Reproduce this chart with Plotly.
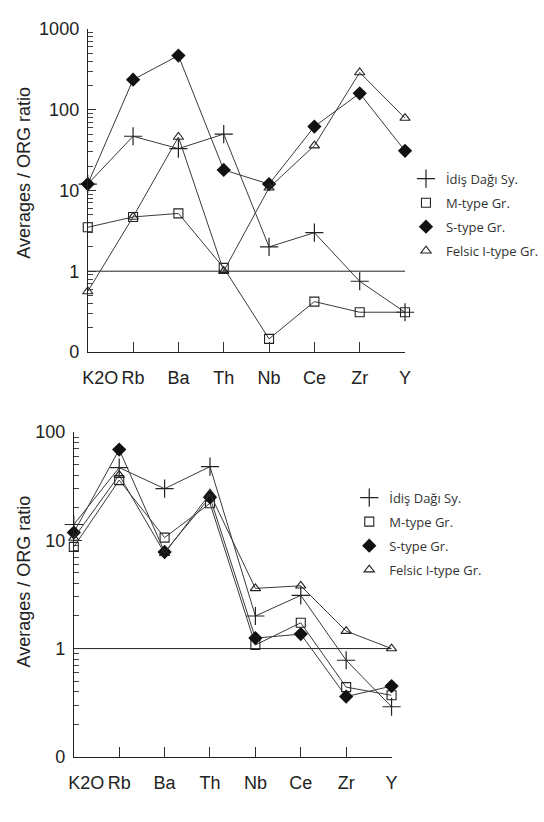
import plotly.graph_objects as go

elements = ["K2O", "Rb", "Ba", "Th", "Nb", "Ce", "Zr", "Y"]
series_names = ["İdiş Dağı Sy.", "M-type Gr.", "S-type Gr.", "Felsic I-type Gr."]

# Upper diagram
idis_top = [12, 47, 33, 50, 2.0, 3.0, 0.75, 0.31]
mtype_top = [3.5, 4.7, 5.2, 1.1, 0.145, 0.42, 0.31, 0.31]
stype_top = [12, 236, 470, 18, 12, 62, 160, 31]
felsic_top = [0.56, 4.7, 46, 1.0, 10.8, 36, 290, 79]

# Lower diagram
idis_bot = [14, 47, 30, 48, 2.0, 3.1, 0.78, 0.29]
mtype_bot = [8.7, 36, 10.6, 22, 1.08, 1.73, 0.44, 0.37]
stype_bot = [11.8, 69, 7.8, 25, 1.25, 1.36, 0.36, 0.45]
felsic_bot = [10.5, 40, 7.6, 27, 3.6, 3.8, 1.45, 1.0]

top_ticks = [0.1, 1, 10, 100, 1000]
top_ticktext = ["0", "1", "10", "100", "1000"]
bot_ticks = [0.1, 1, 10, 100]
bot_ticktext = ["0", "1", "10", "100"]
reference_level = [1, 1]

xi = list(range(len(elements)))
LINE = "#3a3a3a"
styles = [
    dict(symbol="cross-thin", size=13, color=LINE, line=dict(width=1.2, color="#222")),
    dict(symbol="square-open", size=9, color="#222", line=dict(width=1.1)),
    dict(symbol="diamond", size=11, color="#111", line=dict(width=0)),
    dict(symbol="triangle-up-open", size=9, color="#222", line=dict(width=1.1)),
]

fig = go.Figure()

def add_panel(data, xa, ya, legend):
    fig.add_trace(go.Scatter(x=[xi[0], xi[-1]], y=reference_level, mode="lines",
                             line=dict(color="#222", width=1), xaxis=xa, yaxis=ya,
                             showlegend=False, hoverinfo="skip"))
    for name, vals, st in zip(series_names, data, styles):
        fig.add_trace(go.Scatter(x=xi, y=vals, mode="lines+markers", name=name,
                                 line=dict(color=LINE, width=1), marker=st,
                                 xaxis=xa, yaxis=ya, showlegend=False,
                                 cliponaxis=False))
    for i, (name, st) in enumerate(zip(series_names, styles)):
        fig.add_trace(go.Scatter(x=[None], y=[None], mode="markers", name=name,
                                 marker=st, xaxis=xa, yaxis=ya, legend=legend,
                                 legendgroup=legend + str(i), showlegend=True))

add_panel([idis_top, mtype_top, stype_top, felsic_top], "x", "y", "legend")
add_panel([idis_bot, mtype_bot, stype_bot, felsic_bot], "x2", "y2", "legend2")

def minor_vals(lo, hi):
    out = []
    for e in range(lo, hi):
        for m in range(2, 10):
            out.append(m * 10 ** e)
    return out

TICKFONT = dict(family="Liberation Sans, Arial, sans-serif", size=18, color="#222")
common_x = dict(range=[0, 7], tickmode="array", tickvals=xi,
                ticktext=["\u00a0\u00a0\u00a0\u00a0\u00a0K2O"] + elements[1:],
                ticks="inside", ticklen=10, tickcolor="#333", tickwidth=1,
                showline=True, linecolor="#222", linewidth=1, showgrid=False,
                zeroline=False, tickfont=TICKFONT, ticklabelstandoff=10)

LEGFONT = dict(family="Open Sans, sans-serif", size=13, color="#333")
fig.update_layout(
    width=544, height=822, margin=dict(l=0, r=0, t=0, b=0),
    paper_bgcolor="white", plot_bgcolor="white",
    xaxis=dict(domain=[84 / 544, 414 / 544], anchor="y", **common_x),
    yaxis=dict(domain=[1 - 358 / 822, 1 - 20 / 822], anchor="x", type="log",
               range=[-1, 3], tickmode="array", tickvals=top_ticks,
               ticktext=top_ticktext, ticks="inside", ticklen=8, tickcolor="#333",
               showline=True, linecolor="#222", linewidth=1, showgrid=False,
               zeroline=False, tickfont=TICKFONT, ticklabelstandoff=4,
               minor=dict(tickmode="array", tickvals=minor_vals(-1, 3),
                          ticks="inside", ticklen=5, tickcolor="#444", showgrid=False)),
    xaxis2=dict(domain=[69.5 / 544, 400 / 544], anchor="y2", **common_x),
    yaxis2=dict(domain=[1 - 782 / 822, 1 - 442 / 822], anchor="x2", type="log",
                range=[-1, 2], tickmode="array", tickvals=bot_ticks,
                ticktext=bot_ticktext, ticks="inside", ticklen=8, tickcolor="#333",
                showline=True, linecolor="#222", linewidth=1, showgrid=False,
                zeroline=False, tickfont=TICKFONT, ticklabelstandoff=4,
                minor=dict(tickmode="array", tickvals=minor_vals(-1, 2),
                           ticks="inside", ticklen=5, tickcolor="#444", showgrid=False)),
    legend=dict(x=415 / 544, y=1 - 161 / 822, xanchor="left", yanchor="top",
                bgcolor="rgba(0,0,0,0)", tracegroupgap=4.1, font=LEGFONT),
    legend2=dict(x=356 / 544, y=1 - 495 / 822, xanchor="left", yanchor="top",
                 bgcolor="rgba(0,0,0,0)", tracegroupgap=4.1, font=LEGFONT),
    showlegend=True,
)

TITLEFONT = dict(family="Liberation Sans, Arial, sans-serif", size=18, color="#222")
for yc in (170, 598):
    fig.add_annotation(text="Averages / ORG ratio", x=18 / 544, y=1 - yc / 822,
                       xref="paper", yref="paper", textangle=-90, showarrow=False,
                       xanchor="center", yanchor="middle", font=TITLEFONT)

fig.write_html("out.html")
